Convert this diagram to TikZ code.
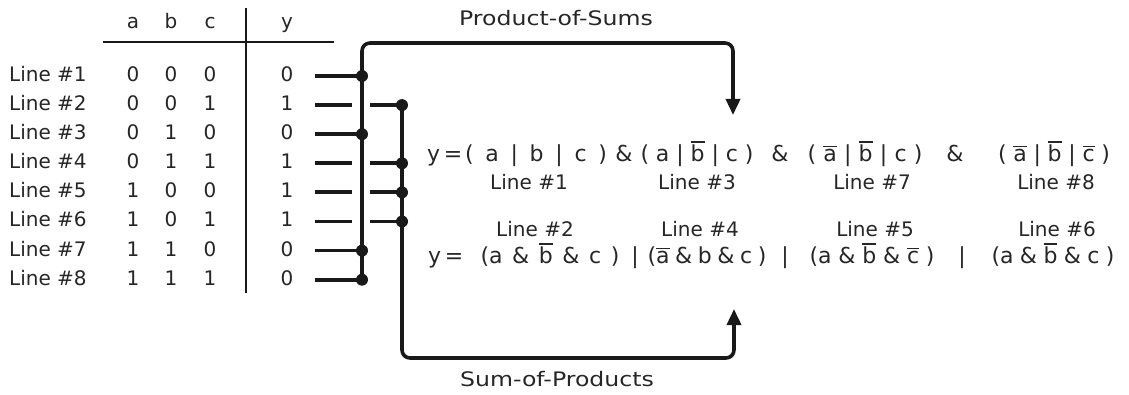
\documentclass[tikz,border=0pt]{standalone}
\usepackage{fontspec}
\setmainfont{DejaVu Sans}
\usetikzlibrary{arrows.meta}
\newcommand\ob[1]{\setbox0\hbox{#1}\rlap{\raisebox{\dimexpr\ht0+2pt\relax}{\rule{\wd0}{1.5pt}}}\box0}
\begin{document}
\begin{tikzpicture}[x=1pt,y=-1pt,
  txt/.style={inner sep=0pt,font=\fontsize{20}{24}\selectfont,text=black!85,text height=15pt,text depth=4pt},
  ftxt/.style={txt,font=\fontsize{22}{26}\selectfont},
  wire/.style={line width=3.8pt,black!90},
  bus/.style={line width=3.6pt,black!90,rounded corners=8pt},
  dot/.style={fill=black!90},
  tip/.style={-{Triangle[width=14pt,length=16pt]}}]
\useasboundingbox (0,0) rectangle (1129,395);
% header
\node[txt] (ha) at (133,23) {a};
\node[txt] (hb) at (171,23) {b};
\node[txt] (hc) at (210,23) {c};
\node[txt] (hy) at (287,23) {y};
\coordinate (hl) at (103,42);
\coordinate (hr) at (334,42);
\coordinate (vt) at (246,8);
\coordinate (vb) at (246,293);
\draw[line width=1.6pt,black!90] (hl) -- (hr);
\draw[line width=1.6pt,black!90] (vt) -- (vb);
% rows
\foreach \n/\a/\b/\c/\y in {1/0/0/0/0,2/0/0/1/1,3/0/1/0/0,4/0/1/1/1,5/1/0/0/1,6/1/0/1/1,7/1/1/0/0,8/1/1/1/0}{
  \pgfmathsetmacro\ry{76+(\n-1)*29.1}
  \node[txt,anchor=west] (l\n) at (9,\ry) {Line \#\n};
  \node[txt] (a\n) at (133,\ry) {\a};
  \node[txt] (b\n) at (171,\ry) {\b};
  \node[txt] (c\n) at (210,\ry) {\c};
  \node[txt] (y\n) at (287,\ry) {\y};
  \coordinate (s\n) at (315,\ry);
  \coordinate (g\n) at (352,\ry);
  \coordinate (h\n) at (370,\ry);
  \coordinate (j\n) at (362,\ry);
  \coordinate (k\n) at (402,\ry);
}
% POS bus
\coordinate (ptop) at (362,43);
\coordinate (pcor) at (733,43);
\coordinate (pin) at (733,115);
\draw[bus,tip] (j8) -- (ptop) -- (pcor) -- (pin);
\foreach \n in {1,3,7,8}{\draw[wire] (s\n) -- (j\n); \fill[dot] (j\n) circle[radius=6pt];}
% SOP bus
\coordinate (sbot) at (402,358);
\coordinate (scor) at (734,358);
\coordinate (sin) at (734,309);
\draw[bus,tip] (k2) -- (sbot) -- (scor) -- (sin);
\foreach \n in {2,4,5,6}{\draw[wire] (s\n) -- (g\n); \draw[wire] (h\n) -- (k\n); \fill[dot] (k\n) circle[radius=6pt];}
% titles
\node[txt] (pos) at (556,20) {\scalebox{1.18}[1]{Product-of-Sums}};
\node[txt] (sop) at (557,381) {\scalebox{1.18}[1]{Sum-of-Products}};
% POS formula
\def\py{156}
\node[ftxt,anchor=west] (py) at (427,\py) {y\,=};
\node[ftxt] (p1) at (536,\py) {\makebox[142pt]{(\hfill a\hfill |\hfill b\hfill |\hfill c\hfill )}};
\node[ftxt] (pa1) at (624,\py) {\&};
\node[ftxt] (p2) at (697,\py) {\makebox[113pt]{(\hfill a\hfill |\hfill \ob{b}\hfill |\hfill c\hfill )}};
\node[ftxt] (pa2) at (780,\py) {\&};
\node[ftxt] (p3) at (865,\py) {\makebox[115pt]{(\hfill \ob{a}\hfill |\hfill \ob{b}\hfill |\hfill c\hfill )}};
\node[ftxt] (pa3) at (955,\py) {\&};
\node[ftxt] (p4) at (1054,\py) {\makebox[112pt]{(\hfill \ob{a}\hfill |\hfill \ob{b}\hfill |\hfill \ob{c}\hfill )}};
\node[txt] (pl1) at (529,184) {Line \#1};
\node[txt] (pl3) at (697,184) {Line \#3};
\node[txt] (pl7) at (872,184) {Line \#7};
\node[txt] (pl8) at (1056,184) {Line \#8};
% SOP formula
\def\sy{258}
\node[txt] (sl2) at (535,231) {Line \#2};
\node[txt] (sl4) at (700,231) {Line \#4};
\node[txt] (sl5) at (875,231) {Line \#5};
\node[txt] (sl6) at (1057,231) {Line \#6};
\node[ftxt,anchor=west] (sy) at (428,\sy) {y\,=};
\node[ftxt] (s1f) at (550,\sy) {\makebox[139pt]{(a\hfill \&\hfill\ob{b}\hfill \&\hfill c\hfill )}};
\node[ftxt] (so1) at (635,\sy) {|};
\node[ftxt] (s2f) at (707,\sy) {\makebox[119pt]{(\ob{a}\hfill \&\hfill b\hfill \&\hfill c\hfill )}};
\node[ftxt] (so2) at (785,\sy) {|};
\node[ftxt] (s3f) at (872,\sy) {\makebox[125pt]{(a\hfill \&\hfill \ob{b}\hfill \&\hfill \ob{c}\hfill )}};
\node[ftxt] (so3) at (962,\sy) {|};
\node[ftxt] (s4f) at (1053,\sy) {\makebox[123pt]{(a\hfill \&\hfill \ob{b}\hfill \&\hfill c\hfill )}};
\end{tikzpicture}
\end{document}
